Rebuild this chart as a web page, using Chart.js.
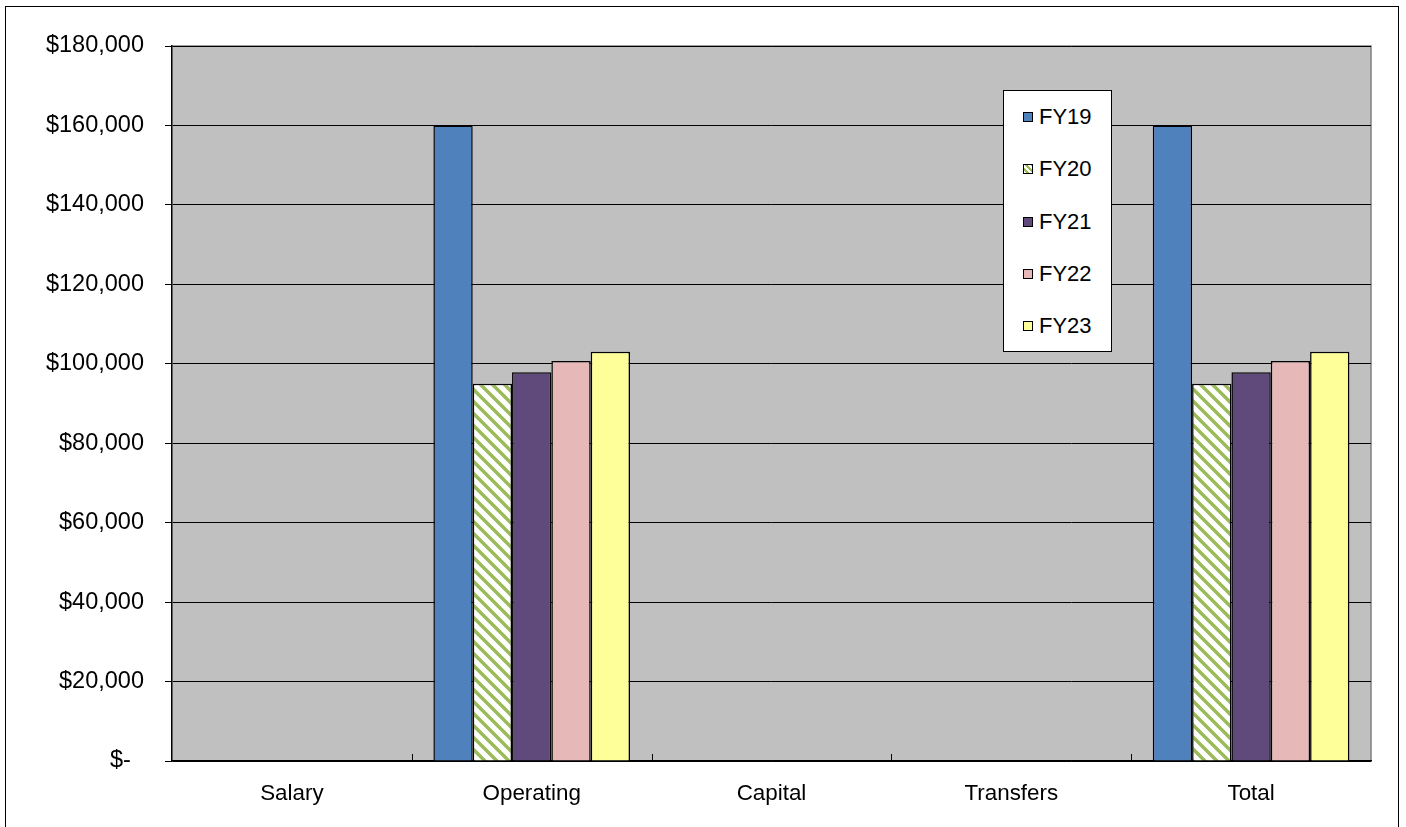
<!DOCTYPE html>
<html>
<head>
<meta charset="utf-8">
<script src="https://cdn.jsdelivr.net/npm/chart.js@4.4.1/dist/chart.umd.min.js"></script>
<style>
  html, body { margin: 0; padding: 0; background: #fff; }
  body { width: 1406px; height: 827px; position: relative; overflow: hidden; font-family: "Liberation Sans", Arial, sans-serif; }
  #frame { position: absolute; left: 5px; top: 6px; width: 1394px; height: 840px; border: 1px solid #000; box-sizing: border-box; }
  #wrap { position: absolute; left: 0; top: 0; width: 1406px; height: 827px; }
  #legend { position: absolute; left: 1003px; top: 90px; width: 109px; height: 262px; background: #fff; border: 1px solid #000; box-sizing: border-box; }
  .item { position: absolute; left: 19px; height: 24px; line-height: 24px; font-size: 22px; color: #000; white-space: nowrap; }
  .item i { display: inline-block; width: 8px; height: 8px; border: 1px solid #000; margin-right: 6px; vertical-align: 2px; }
</style>
</head>
<body>
<div id="frame"></div>
<div id="wrap"><canvas id="myChart" width="1406" height="827"></canvas></div>
<div id="legend"></div>
<script>
// categories and series values
const categories = ["Salary", "Operating", "Capital", "Transfers", "Total"];
const seriesNames = ["FY19", "FY20", "FY21", "FY22", "FY23"];
const fy19 = [0, 160000, 0, 0, 160000];
const fy20 = [0, 95000, 0, 0, 95000];
const fy21 = [0, 97850, 0, 0, 97850];
const fy22 = [0, 100700, 0, 0, 100700];
const fy23 = [0, 103000, 0, 0, 103000];
const yTicks = [0, 20000, 40000, 60000, 80000, 100000, 120000, 140000, 160000, 180000];

// green diagonal hatch for FY20
function makeHatch() {
  const n = 12;
  const c = document.createElement("canvas");
  c.width = n; c.height = n;
  const g = c.getContext("2d");
  g.fillStyle = "#fff";
  g.fillRect(0, 0, n, n);
  g.strokeStyle = "#9BBB59";
  g.lineWidth = 3.5;
  g.beginPath();
  g.moveTo(-2, -2); g.lineTo(n + 2, n + 2);
  g.moveTo(-2, n - 2); g.lineTo(2, n + 2);
  g.moveTo(n - 2, -2); g.lineTo(n + 2, 2);
  g.stroke();
  return document.getElementById("myChart").getContext("2d").createPattern(c, "repeat");
}
const hatch = makeHatch();

const colors = ["#4F81BD", hatch, "#604A7B", "#E6B9B8", "#FFFF99"];
const legendSwatch = ["#4F81BD", "repeating-linear-gradient(45deg, #fff 0 2px, #9BBB59 2px 4px)", "#604A7B", "#E6B9B8", "#FFFF99"];
const values = [fy19, fy20, fy21, fy22, fy23];

const data = {
  labels: categories,
  datasets: seriesNames.map((name, i) => ({
    label: name,
    data: values[i],
    backgroundColor: colors[i],
    borderColor: "#000",
    borderWidth: 1.5,
    borderSkipped: "bottom",
    categoryPercentage: 0.82,
    barPercentage: 1.0,
  })),
};

// gray plot area + inner x ticks
const plotBg = {
  id: "plotBg",
  beforeDraw(chart) {
    const a = chart.chartArea, ctx = chart.ctx;
    ctx.save();
    ctx.fillStyle = "#C0C0C0";
    ctx.fillRect(a.left, a.top, a.right - a.left, a.bottom - a.top);
    ctx.strokeStyle = "#808080";
    ctx.lineWidth = 1.5;
    ctx.beginPath();
    ctx.moveTo(a.left, a.top);
    ctx.lineTo(a.right, a.top);
    ctx.lineTo(a.right, a.bottom);
    ctx.stroke();
    ctx.restore();
  },
  afterDraw(chart) {
    const a = chart.chartArea, ctx = chart.ctx;
    const step = (a.right - a.left) / categories.length;
    ctx.save();
    ctx.strokeStyle = "#000";
    ctx.lineWidth = 1;
    for (let i = 1; i < categories.length; i++) {
      const x = Math.round(a.left + i * step) + 0.5;
      ctx.beginPath();
      ctx.moveTo(x, a.bottom - 7);
      ctx.lineTo(x, a.bottom);
      ctx.stroke();
    }
    ctx.restore();
  },
};

const config = {
  type: "bar",
  data,
  options: {
    responsive: false,
    animation: false,
    layout: { padding: { top: 46, right: 35, left: 0, bottom: 0 } },
    plugins: { legend: { display: false }, tooltip: { enabled: false } },
    scales: {
      x: {
        grid: { display: false, drawTicks: false },
        border: { color: "#000", width: 1.5 },
        ticks: { color: "#000", padding: 19, font: { family: "Liberation Sans", size: 22.4 } },
        afterFit(s) { s.height = 66; },
      },
      y: {
        min: 0,
        max: 180000,
        afterBuildTicks(s) { s.ticks = yTicks.map(v => ({ value: v })); },
        grid: { color: "#000", lineWidth: 1, tickLength: 7, tickColor: "#000" },
        border: { color: "#000", width: 1.5 },
        ticks: {
          color: "#000",
          padding: 21,
          font: { family: "Liberation Sans", size: 23.5 },
          callback: v => v === 0 ? "$-  " : "$" + v.toLocaleString("en-US"),
        },
        afterFit(s) { s.width = 172; },
      },
    },
  },
  plugins: [plotBg],
};

const myChart = new Chart(document.getElementById("myChart"), config);

// legend box
const legend = document.getElementById("legend");
seriesNames.forEach((name, i) => {
  const d = document.createElement("div");
  d.className = "item";
  d.style.top = (14 + i * 52.3) + "px";
  d.innerHTML = '<i style="background:' + legendSwatch[i] + '"></i>' + name;
  legend.appendChild(d);
});
</script>
</body>
</html>
